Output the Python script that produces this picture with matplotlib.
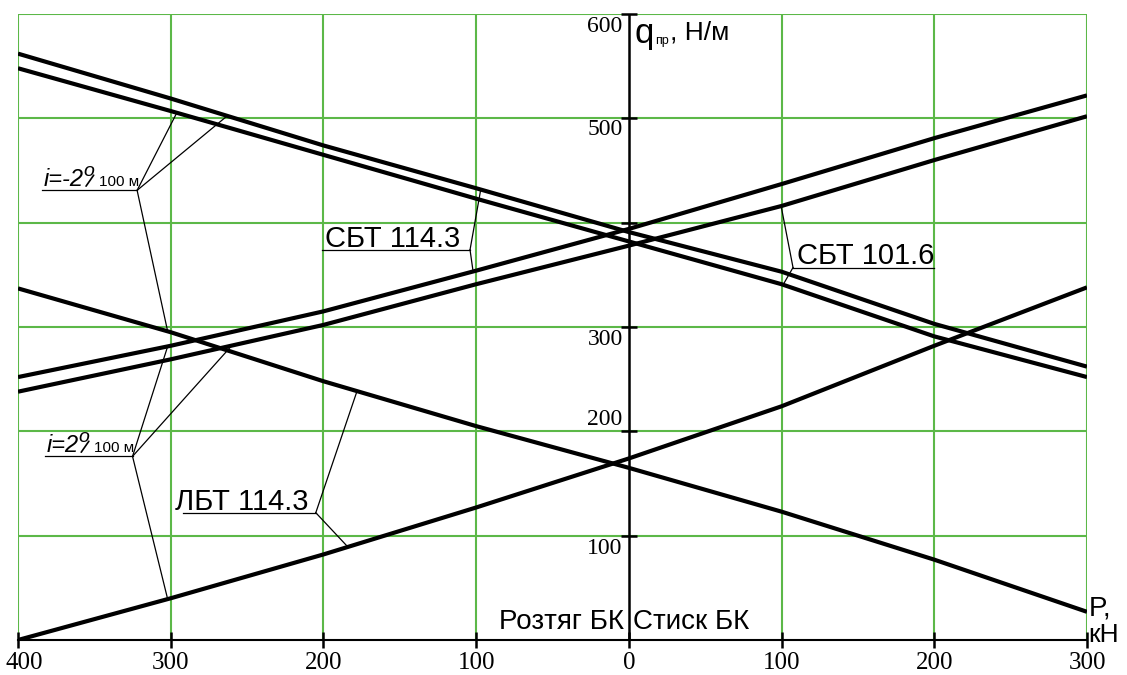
import numpy as np
import matplotlib.pyplot as plt
from matplotlib.text import OffsetFrom

# P, kN: negative = tension (left), positive = compression (right)
P = [-400, -300, -200, -100, 0, 100, 200, 300]

# q_pr, N/m
sbt114_down = [562, 519, 474, 433, 391, 353, 303, 262]
sbt101_down = [548, 507, 465, 423, 382, 341, 291, 252]
sbt114_up = [252, 282, 315, 354, 394, 437, 481, 522]
sbt101_up = [238, 269, 302, 341, 378, 416, 460, 502]
lbt_down = [337, 295, 248, 205, 165, 123, 77, 27]
lbt_up = [0, 40, 82, 127, 174, 224, 282, 338]

x_ticks = [-400, -300, -200, -100, 0, 100, 200, 300]
x_label_shift = [4, 0, 0, 0, 0, 0, 0, 0]
y_grid = [100, 200, 300, 400, 500, 600]
y_labels = [100, 200, 300, 500, 600]
y_label_shift = [-12, 11, -12, -11, -12]

green = '#5cb848'
sans = 'Liberation Sans'
serif = 'Liberation Serif'

fig = plt.figure(figsize=(11.27, 6.75), dpi=100)
ax = fig.add_axes([18 / 1127, 35 / 675, 1069 / 1127, 626 / 675])
ax.set_xlim(-400, 300)
ax.set_ylim(0, 600)
for s in ax.spines.values():
    s.set_visible(False)
ax.set_xticks([])
ax.set_yticks([])

# green grid
for xv in x_ticks:
    if xv != 0:
        ax.axvline(xv, color=green, lw=1.5, zorder=1)
for yv in y_grid:
    ax.axhline(yv, color=green, lw=1.5, zorder=1)

# black axes
ax.axhline(0, color='black', lw=1.5, zorder=3, clip_on=False)
ax.axvline(0, color='black', lw=1.8, zorder=3)
ax.plot(x_ticks, [0] * len(x_ticks), ls='none', marker='|', ms=11, mew=1.8,
        color='black', clip_on=False, zorder=3)
ax.plot([0] * len(y_grid), y_grid, ls='none', marker='_', ms=11, mew=1.8,
        color='black', clip_on=False, zorder=3)

# curves
for series in [sbt114_down, sbt101_down, sbt114_up, sbt101_up, lbt_down, lbt_up]:
    ax.plot(P, series, color='black', lw=3, solid_capstyle='butt',
            solid_joinstyle='round', zorder=4)

# tick labels
for xv, dx in zip(x_ticks, x_label_shift):
    ax.text(xv + dx, -22, str(abs(xv)), ha='center', va='center', fontsize=18,
            family=serif, clip_on=False)
for yv, dy in zip(y_labels, y_label_shift):
    ax.text(-4, yv + dy, str(yv), ha='right', va='center', fontsize=17,
            family=serif)

ax.text(4, 597, 'q', ha='left', va='top', fontsize=25, family=sans)
ax.text(17, 574, 'пр', ha='left', va='center', fontsize=9, family=sans)
ax.text(27, 582, ', Н/м', ha='left', va='center', fontsize=19, family=sans)

ax.text(-3, 17, 'Розтяг БК', ha='right', va='center', fontsize=20, family=sans)
ax.text(3, 17, 'Стиск БК', ha='left', va='center', fontsize=20, family=sans)
ax.text(301, 30, 'P,', ha='left', va='center', fontsize=20, family=sans, clip_on=False)
ax.text(301, 5, 'кН', ha='left', va='center', fontsize=19, family=sans, clip_on=False)


def leader(x0, x1, y, vx, targets):
    # underline plus thin lines from the vertex vx to the curves
    ax.plot([x0, x1], [y, y], color='black', lw=0.9, zorder=5)
    for tx, series in targets:
        ty = np.interp(tx, P, series)
        ax.plot([vx, tx], [y, ty], color='black', lw=0.9, zorder=5)


def slope_label(x0, y, sign):
    t1 = ax.text(x0 + 1, y + 4, 'i=' + sign + '2', style='italic', ha='left',
                 va='baseline', fontsize=17, family=sans, zorder=6)
    ax.annotate('o', xy=(1, 0), xycoords=t1, xytext=(-0.5, 11),
                textcoords='offset points', ha='left', va='baseline',
                fontsize=14, style='italic', family=sans)
    # tail of the degree/slash sign
    corner = OffsetFrom(t1, (1, 0))
    ax.annotate('', xy=(1.5, 3.6), xycoords=corner, xytext=(7, 11.5),
                textcoords=corner,
                arrowprops=dict(arrowstyle='-', lw=1.2, color='black',
                                shrinkA=0, shrinkB=0))
    ax.annotate('100 м', xy=(1, 0), xycoords=t1, xytext=(10.5, 3.6),
                textcoords='offset points', ha='left', va='baseline',
                fontsize=11, family=sans)


def name_label(text, x0, y):
    ax.text(x0, y + 3, text, ha='left', va='baseline', fontsize=21,
            family=sans, zorder=6)


leader(-384, -322, 431, -322, [(-296, sbt101_down), (-263, sbt114_down), (-302, lbt_down)])
slope_label(-384, 431, '-')
leader(-382, -325, 176, -325, [(-302, sbt114_up), (-260, sbt101_up), (-302, lbt_up)])
slope_label(-382, 176, '')

leader(-201, -104, 374, -104, [(-97, sbt114_down), (-102, sbt114_up)])
name_label('СБТ 114.3', -199, 374)
leader(107.5, 200, 357, 107.5, [(99.7, sbt101_up), (101, sbt101_down)])
name_label('СБТ 101.6', 110, 357)
leader(-292, -205, 122, -205, [(-178, lbt_down), (-184, lbt_up)])
name_label('ЛБТ 114.3', -297, 122)

fig.savefig('out.png', dpi=100)
